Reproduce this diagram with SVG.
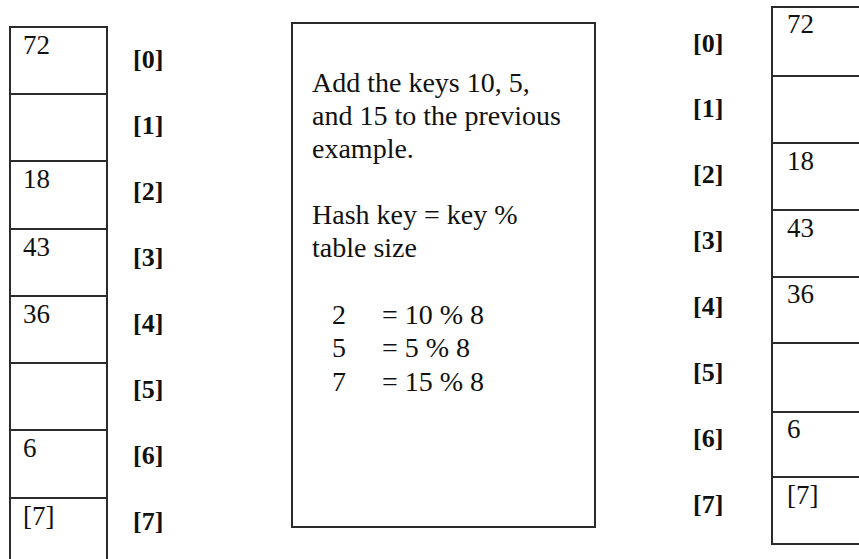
<svg xmlns="http://www.w3.org/2000/svg" width="859" height="559" viewBox="0 0 859 559">
  <style>
    .cell { fill: #ffffff; stroke: #2b2b2b; stroke-width: 2; }
    .val { font-family: "Liberation Serif", "Times New Roman", serif; font-size: 27px; fill: #111; }
    .idx { font-family: "Liberation Serif", "Times New Roman", serif; font-size: 26px; font-weight: bold; fill: #111; }
    .note { font-family: "Liberation Serif", "Times New Roman", serif; font-size: 28px; fill: #111; }
    .frame { fill: #ffffff; stroke: #2b2b2b; stroke-width: 2; }
  </style>
  <rect width="859" height="559" fill="#ffffff"/>

  <!-- left hash table -->
  <g id="left-table">
    <rect class="cell" x="10" y="27" width="97" height="67"/>
    <rect class="cell" x="10" y="94" width="97" height="67"/>
    <rect class="cell" x="10" y="161" width="97" height="68"/>
    <rect class="cell" x="10" y="229" width="97" height="67"/>
    <rect class="cell" x="10" y="296" width="97" height="67"/>
    <rect class="cell" x="10" y="363" width="97" height="67"/>
    <rect class="cell" x="10" y="430" width="97" height="68"/>
    <rect class="cell" x="10" y="498" width="97" height="67"/>
    <text class="val" x="23" y="54">72</text>
    <text class="val" x="23" y="188">18</text>
    <text class="val" x="23" y="256">43</text>
    <text class="val" x="23" y="323">36</text>
    <text class="val" x="23" y="457">6</text>
    <text class="val" x="23" y="525">[7]</text>
  </g>
  <g id="left-index">
    <text class="idx" x="133" y="68">[0]</text>
    <text class="idx" x="133" y="134">[1]</text>
    <text class="idx" x="133" y="200">[2]</text>
    <text class="idx" x="133" y="266">[3]</text>
    <text class="idx" x="133" y="332">[4]</text>
    <text class="idx" x="133" y="398">[5]</text>
    <text class="idx" x="133" y="464">[6]</text>
    <text class="idx" x="133" y="530">[7]</text>
  </g>

  <!-- explanation box -->
  <g id="note">
    <rect class="frame" x="292" y="23" width="303" height="504"/>
    <text class="note" x="312" y="92">Add the keys 10, 5,</text>
    <text class="note" x="312" y="125">and 15 to the previous</text>
    <text class="note" x="312" y="158">example.</text>
    <text class="note" x="312" y="224">Hash key = key %</text>
    <text class="note" x="312" y="257">table size</text>
    <text class="note" x="332" y="324">2</text>
    <text class="note" x="382" y="324">= 10 % 8</text>
    <text class="note" x="332" y="357">5</text>
    <text class="note" x="382" y="357">= 5 % 8</text>
    <text class="note" x="332" y="391">7</text>
    <text class="note" x="382" y="391">= 15 % 8</text>
  </g>

  <!-- right hash table -->
  <g id="right-index">
    <text class="idx" x="693" y="52">[0]</text>
    <text class="idx" x="693" y="117">[1]</text>
    <text class="idx" x="693" y="183">[2]</text>
    <text class="idx" x="693" y="249">[3]</text>
    <text class="idx" x="693" y="315">[4]</text>
    <text class="idx" x="693" y="381">[5]</text>
    <text class="idx" x="693" y="447">[6]</text>
    <text class="idx" x="693" y="513">[7]</text>
  </g>
  <g id="right-table">
    <rect class="cell" x="772" y="7" width="100" height="69"/>
    <rect class="cell" x="772" y="76" width="100" height="67"/>
    <rect class="cell" x="772" y="143" width="100" height="67"/>
    <rect class="cell" x="772" y="210" width="100" height="67"/>
    <rect class="cell" x="772" y="277" width="100" height="66"/>
    <rect class="cell" x="772" y="343" width="100" height="69"/>
    <rect class="cell" x="772" y="412" width="100" height="65"/>
    <rect class="cell" x="772" y="477" width="100" height="67"/>
    <text class="val" x="787" y="33">72</text>
    <text class="val" x="787" y="170">18</text>
    <text class="val" x="787" y="237">43</text>
    <text class="val" x="787" y="303">36</text>
    <text class="val" x="787" y="438">6</text>
    <text class="val" x="787" y="504">[7]</text>
  </g>
</svg>
